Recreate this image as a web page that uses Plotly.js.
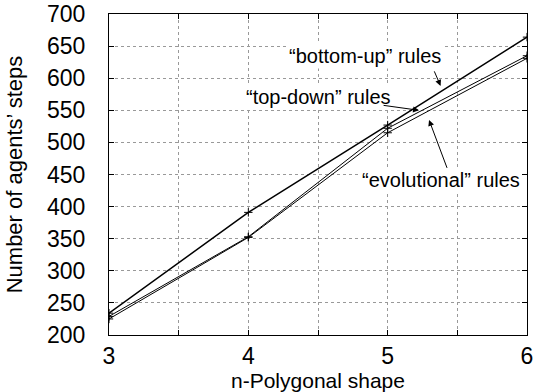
<!DOCTYPE html>
<html>
<head>
<meta charset="utf-8">
<script src="https://cdn.plot.ly/plotly-3.0.1.min.js"></script>
<style>html,body{margin:0;padding:0;background:#fff;}#chart{width:536px;height:392px;}</style>
</head>
<body>
<div id="chart"></div>
<script>
var xShapes = [3, 4, 5, 6];
var bottomUp = [234, 391, 527, 664];
var topDown = [229, 353, 522, 635];
var evolutional = [225, 352, 515, 631];
var yTicks = [200, 250, 300, 350, 400, 450, 500, 550, 600, 650, 700];
var xTicks = [3, 4, 5, 6];

var FONT = 'Liberation Sans, Arial, sans-serif';

function series(name, ys, w) {
  return {
    x: xShapes, y: ys, name: name, type: 'scatter', mode: 'lines+markers',
    line: {color: '#000', width: w},
    marker: {symbol: 'cross-thin', size: 6, line: {color: '#000', width: 1}},
    showlegend: false
  };
}

var data = [
  series('“bottom-up” rules', bottomUp, 1.5),
  series('“top-down” rules', topDown, 1),
  series('“evolutional” rules', evolutional, 1)
];

var layout = {
  width: 536, height: 392,
  margin: {l: 109, r: 9, t: 14, b: 57},
  paper_bgcolor: '#fff', plot_bgcolor: '#fff',
  font: {family: FONT, color: '#000'},
  xaxis: {
    range: [3, 6], tickvals: xTicks, ticktext: xTicks.map(String),
    ticks: 'inside', ticklen: 5, tickcolor: '#000', mirror: 'ticks',
    showline: true, linecolor: '#000', linewidth: 1,
    showgrid: true, gridcolor: '#999', griddash: 'dot', gridwidth: 1,
    minor: {dtick: 0.5, tick0: 3, showgrid: true, gridcolor: '#999', griddash: 'dot', ticks: 'inside', ticklen: 5, tickcolor: '#000'},
    zeroline: false,
    tickfont: {size: 23, family: FONT},
    ticklabelstandoff: 0,
    title: {text: 'n-Polygonal shape', font: {size: 21, family: FONT}, standoff: 2}
  },
  yaxis: {
    range: [200, 700], tickvals: yTicks,
    ticks: 'inside', ticklen: 5, tickcolor: '#000', mirror: 'ticks',
    showline: true, linecolor: '#000', linewidth: 1,
    showgrid: true, gridcolor: '#999', griddash: 'dot', gridwidth: 1,
    zeroline: false,
    tickfont: {size: 23, family: FONT},
    ticklabelstandoff: 18,
    title: {text: 'Number of agents’ steps', font: {size: 22, family: FONT}, standoff: 18}
  },
  annotations: [
    {x: 4.84, y: 635, xref: 'x', yref: 'y', text: '“bottom-up” rules', showarrow: false, font: {size: 20, family: FONT}, bgcolor: '#fff'},
    {x: 4.50, y: 570, xref: 'x', yref: 'y', text: '“top-down” rules', showarrow: false, font: {size: 20, family: FONT}, bgcolor: '#fff'},
    {x: 5.38, y: 441, xref: 'x', yref: 'y', text: '“evolutional” rules', showarrow: false, font: {size: 20, family: FONT}, bgcolor: '#fff'},
    {x: 5.38, y: 588, ax: 5.33, ay: 613, xref: 'x', yref: 'y', axref: 'x', ayref: 'y', text: '', showarrow: true, arrowhead: 2, arrowsize: 1.2, arrowwidth: 1, arrowcolor: '#000'},
    {x: 5.225, y: 550, ax: 4.96, ay: 558, xref: 'x', yref: 'y', axref: 'x', ayref: 'y', text: '', showarrow: true, arrowhead: 2, arrowsize: 1.2, arrowwidth: 1, arrowcolor: '#000'},
    {x: 5.297, y: 535, ax: 5.43, ay: 458, xref: 'x', yref: 'y', axref: 'x', ayref: 'y', text: '', showarrow: true, arrowhead: 2, arrowsize: 1.2, arrowwidth: 1, arrowcolor: '#000'}
  ]
};

Plotly.newPlot('chart', data, layout, {displayModeBar: false, staticPlot: true});
</script>
</body>
</html>
